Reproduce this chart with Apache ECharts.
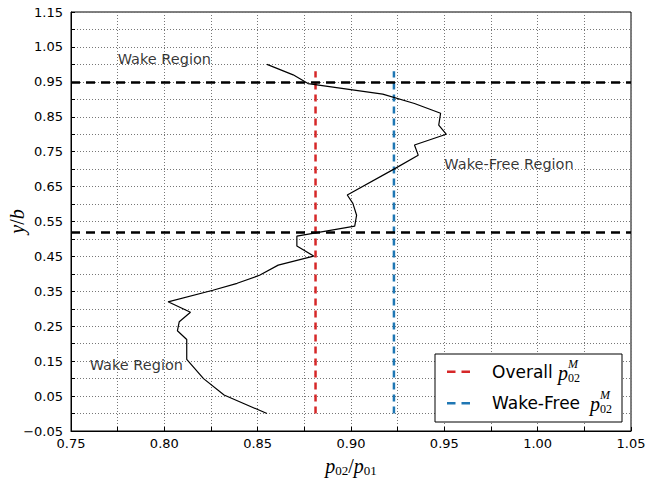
<!DOCTYPE html>
<html><head><meta charset="utf-8">
<script src="https://cdn.jsdelivr.net/npm/echarts@6/dist/echarts.min.js"></script>
<style>html,body{margin:0;padding:0;background:#fff}#c{width:647px;height:482px}</style>
</head><body><div id="c"></div>
<script>
// measured profile p02/p01 vs y/b
const curveX = [0.855, 0.869, 0.877, 0.917, 0.934, 0.948, 0.947, 0.951, 0.934, 0.936, 0.923, 0.898, 0.901, 0.903, 0.902, 0.871, 0.871, 0.880, 0.861, 0.851, 0.839, 0.826, 0.802, 0.814, 0.808, 0.807, 0.812, 0.812, 0.821, 0.832, 0.855];
const curveY = [1.000, 0.970, 0.945, 0.915, 0.888, 0.860, 0.826, 0.800, 0.769, 0.740, 0.700, 0.626, 0.602, 0.568, 0.537, 0.508, 0.480, 0.451, 0.425, 0.396, 0.373, 0.353, 0.320, 0.290, 0.263, 0.237, 0.212, 0.155, 0.100, 0.053, 0.000];
// averaged values (vertical dashed lines)
const overallX = 0.881;
const wakeFreeX = 0.923;
const refLineY = [0.0, 0.98];
// region boundaries (horizontal dashed lines)
const regionBounds = [0.95, 0.521];
// annotations
const annoText = ['Wake Region', 'Wake Region', 'Wake-Free Region'];
const annoX = [0.775, 0.760, 0.950];
const annoY = [1.000, 0.125, 0.700];
// axes
const xMin = 0.75, xMax = 1.05, xStep = 0.025;
const yMin = -0.05, yMax = 1.15, yStep = 0.05;

const chart = echarts.init(document.getElementById('c'), null, {renderer: 'svg'});
const fmt = v => (v < -1e-9 ? '\u2212' : '') + Math.abs(v).toFixed(2);
const serif = 'Liberation Serif';
const tickFont = {color: '#000', fontSize: 13, fontFamily: 'DejaVu Sans'};
const gridLine = {show: true, lineStyle: {type: [1, 2], color: '#777', width: 1}};

const legendItems = [
  {label: 'Overall ', color: '#d62728', cy: 371.7, px: 558},
  {label: 'Wake-Free ', color: '#1f77b4', cy: 403.3, px: 590}
];
const graphics = [{type: 'rect', z: 100, shape: {x: 435, y: 354, width: 187, height: 68}, style: {fill: '#fff', stroke: '#000', lineWidth: 1}}];
legendItems.forEach(it => {
  graphics.push({type: 'line', z: 101, shape: {x1: 447, y1: it.cy, x2: 471, y2: it.cy}, style: {stroke: it.color, lineWidth: 2.5, lineDash: [8.5, 6]}});
  graphics.push({type: 'text', z: 101, style: {x: 492, y: it.cy, text: it.label, font: '17px "DejaVu Sans"', fill: '#000', verticalAlign: 'middle', align: 'left'}});
  graphics.push({type: 'text', z: 101, style: {x: it.px, y: it.cy + 1, text: 'p', font: 'italic 20px "' + serif + '"', fill: '#000', verticalAlign: 'middle', align: 'left'}});
  graphics.push({type: 'text', z: 101, style: {x: it.px + 10, y: it.cy + 6, text: '02', font: '12px "' + serif + '"', fill: '#000', verticalAlign: 'middle', align: 'left'}});
  graphics.push({type: 'text', z: 101, style: {x: it.px + 10, y: it.cy - 8, text: 'M', font: 'italic 12px "' + serif + '"', fill: '#000', verticalAlign: 'middle', align: 'left'}});
});

const option = {
  animation: false,
  backgroundColor: '#fff',
  grid: {left: 71, right: 16, top: 12, bottom: 51, show: true, borderColor: '#000', borderWidth: 1,
    containLabel: false, outerBoundsMode: 'none'},
  xAxis: {
    type: 'value', min: xMin, max: xMax, interval: xStep,
    axisLine: {onZero: false, lineStyle: {color: '#000'}},
    axisTick: {inside: true, length: 4, lineStyle: {color: '#000'}},
    axisLabel: Object.assign({margin: 6, formatter: v => (Math.round(v * 1000) % 50 === 0 ? fmt(v) : '')}, tickFont),
    splitLine: gridLine,
    name: '{p|p}{s|02}{d|/}{p|p}{s|01}', nameLocation: 'middle', nameGap: 23, nameMoveOverlap: false,
    nameTextStyle: {rich: {
      p: {fontFamily: serif, fontStyle: 'italic', fontSize: 20, color: '#000'},
      d: {fontFamily: serif, fontSize: 20, color: '#000'},
      s: {fontFamily: serif, fontSize: 13, color: '#000', padding: [10, 0, 0, 0]}
    }}
  },
  yAxis: {
    type: 'value', min: yMin, max: yMax, interval: yStep,
    axisLine: {onZero: false, lineStyle: {color: '#000'}},
    axisTick: {inside: true, length: 4, lineStyle: {color: '#000'}},
    axisLabel: Object.assign({margin: 8, formatter: v => (Math.abs(Math.round(v * 100)) % 10 === 5 ? fmt(v) : '')}, tickFont),
    splitLine: gridLine,
    name: '{i|y}{d|/}{i|b}', nameLocation: 'middle', nameGap: 44, nameRotate: 90, nameMoveOverlap: false,
    nameTextStyle: {rich: {
      i: {fontFamily: serif, fontStyle: 'italic', fontSize: 20, color: '#000'},
      d: {fontFamily: serif, fontSize: 20, color: '#000'}
    }}
  },
  graphic: graphics,
  series: [
    {
      type: 'line', name: 'profile', symbol: 'none', z: 5,
      data: curveX.map((x, i) => [x, curveY[i]]),
      lineStyle: {color: '#000', width: 1.2},
      markLine: {silent: true, symbol: 'none', label: {show: false},
        lineStyle: {color: '#000', type: [9, 6], width: 2.5},
        data: regionBounds.map(y => ({yAxis: y}))}
    },
    {type: 'line', name: 'Overall', symbol: 'none', z: 4,
      data: refLineY.map(y => [overallX, y]),
      lineStyle: {color: '#d62728', width: 2.5, type: [7, 5]}},
    {type: 'line', name: 'Wake-Free', symbol: 'none', z: 4,
      data: refLineY.map(y => [wakeFreeX, y]),
      lineStyle: {color: '#1f77b4', width: 2.5, type: [7, 5]}},
    {type: 'scatter', symbolSize: 0, silent: true, z: 6,
      data: annoX.map((x, i) => ({value: [x, annoY[i]], name: annoText[i]})),
      label: {show: true, position: [0, 0], formatter: p => p.name, align: 'left', verticalAlign: 'bottom',
        offset: [0, 3], fontSize: 14.5, fontFamily: 'DejaVu Sans', color: '#000', lineHeight: 16}}
  ]
};
chart.setOption(option);
</script>
</body></html>
